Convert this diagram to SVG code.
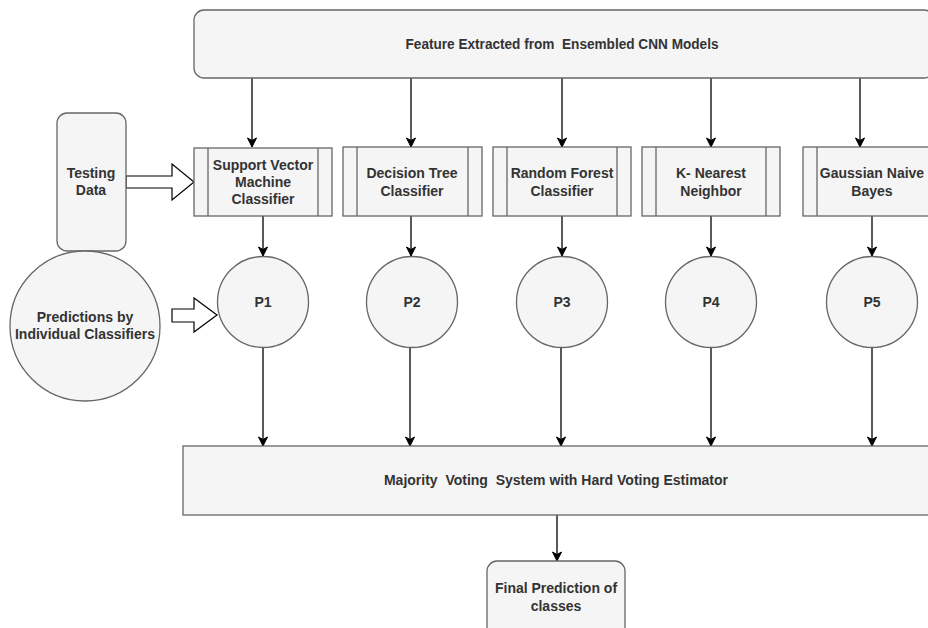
<svg xmlns="http://www.w3.org/2000/svg" width="928" height="628" viewBox="0 0 928 628">
<defs>
<marker id="ah" markerWidth="12" markerHeight="12" refX="10" refY="6" orient="auto" markerUnits="userSpaceOnUse">
<path d="M1,1.5 L10,6 L1,10.5 L3.5,6 Z" fill="#000" stroke="#000" stroke-width="1"/>
</marker>
<style>
.n{fill:#f5f5f5;stroke:#666;stroke-width:1.3}
.t{font-family:"Liberation Sans",Arial,sans-serif;font-weight:bold;font-size:14px;fill:#333;text-anchor:middle;dominant-baseline:central;white-space:pre}
.c{stroke:#000;stroke-width:1.3;fill:none;marker-end:url(#ah)}
.ba{fill:#fff;stroke:#000;stroke-width:1.2}
</style>
</defs>
<rect width="928" height="628" fill="#fff"/>
<g id="connectors">
<line class="c" x1="252" y1="78" x2="252" y2="147"/>
<line class="c" x1="411" y1="78" x2="411" y2="147"/>
<line class="c" x1="562" y1="78" x2="562" y2="147"/>
<line class="c" x1="711" y1="78" x2="711" y2="147"/>
<line class="c" x1="860" y1="78" x2="860" y2="147"/>
<line class="c" x1="263" y1="216" x2="263" y2="256"/>
<line class="c" x1="411" y1="216" x2="411" y2="256"/>
<line class="c" x1="562" y1="216" x2="562" y2="256"/>
<line class="c" x1="711" y1="216" x2="711" y2="256"/>
<line class="c" x1="872" y1="216" x2="872" y2="256"/>
<line class="c" x1="263" y1="347" x2="263" y2="446"/>
<line class="c" x1="410" y1="347" x2="410" y2="446"/>
<line class="c" x1="561" y1="347" x2="561" y2="446"/>
<line class="c" x1="711" y1="347" x2="711" y2="446"/>
<line class="c" x1="872" y1="347" x2="872" y2="446"/>
<line class="c" x1="557" y1="515" x2="557" y2="561"/>
<path class="ba" d="M126,176 L172,176 L172,164 L194,182 L172,200 L172,188 L126,188 Z"/>
<path class="ba" d="M172,309 L194,309 L194,298 L217,315 L194,332 L194,322 L172,322 Z"/>
</g>
<g id="top">
<rect class="n" x="194" y="10" width="740" height="68" rx="10"/>
<text class="t" x="562" y="44" xml:space="preserve" textLength="313" lengthAdjust="spacingAndGlyphs">Feature Extracted from  Ensembled CNN Models</text>
</g>
<g id="testing">
<rect class="n" x="57" y="113" width="69" height="138" rx="10"/>
<text class="t" x="91" y="173">Testing</text>
<text class="t" x="91" y="190">Data</text>
</g>
<g id="predictions">
<circle class="n" cx="85" cy="326" r="75"/>
<text class="t" x="85" y="317">Predictions by</text>
<text class="t" x="85" y="334">Individual Classifiers</text>
</g>
<g id="svm">
<rect class="n" x="194" y="148" width="138" height="68"/>
<line class="n" x1="208" y1="148" x2="208" y2="216"/>
<line class="n" x1="318" y1="148" x2="318" y2="216"/>
<text class="t" x="263" y="165">Support Vector</text>
<text class="t" x="263" y="182">Machine</text>
<text class="t" x="263" y="199">Classifier</text>
</g>
<g id="dt">
<rect class="n" x="343" y="147" width="139" height="69"/>
<line class="n" x1="357" y1="147" x2="357" y2="216"/>
<line class="n" x1="468" y1="147" x2="468" y2="216"/>
<text class="t" x="412" y="173">Decision Tree</text>
<text class="t" x="412" y="191">Classifier</text>
</g>
<g id="rf">
<rect class="n" x="493" y="147" width="138" height="69"/>
<line class="n" x1="507" y1="147" x2="507" y2="216"/>
<line class="n" x1="617" y1="147" x2="617" y2="216"/>
<text class="t" x="562" y="173">Random Forest</text>
<text class="t" x="562" y="191">Classifier</text>
</g>
<g id="knn">
<rect class="n" x="642" y="147" width="138" height="69"/>
<line class="n" x1="656" y1="147" x2="656" y2="216"/>
<line class="n" x1="766" y1="147" x2="766" y2="216"/>
<text class="t" x="711" y="173">K- Nearest</text>
<text class="t" x="711" y="191">Neighbor</text>
</g>
<g id="gnb">
<rect class="n" x="803" y="147" width="138" height="69"/>
<line class="n" x1="817" y1="147" x2="817" y2="216"/>
<text class="t" x="872" y="173">Gaussian Naive</text>
<text class="t" x="872" y="191">Bayes</text>
</g>
<g id="p1"><circle class="n" cx="263" cy="302" r="45.5"/><text class="t" x="263" y="302">P1</text></g>
<g id="p2"><circle class="n" cx="412" cy="302" r="45.5"/><text class="t" x="412" y="302">P2</text></g>
<g id="p3"><circle class="n" cx="562" cy="302" r="45.5"/><text class="t" x="562" y="302">P3</text></g>
<g id="p4"><circle class="n" cx="711" cy="302" r="45.5"/><text class="t" x="711" y="302">P4</text></g>
<g id="p5"><circle class="n" cx="872" cy="302" r="45.5"/><text class="t" x="872" y="302">P5</text></g>
<g id="majority">
<rect class="n" x="183" y="446" width="760" height="69"/>
<text class="t" x="556" y="480" xml:space="preserve">Majority  Voting  System with Hard Voting Estimator</text>
</g>
<g id="final">
<rect class="n" x="487" y="561" width="138" height="80" rx="10"/>
<text class="t" x="556" y="588">Final Prediction of</text>
<text class="t" x="556" y="606">classes</text>
</g>
</svg>
